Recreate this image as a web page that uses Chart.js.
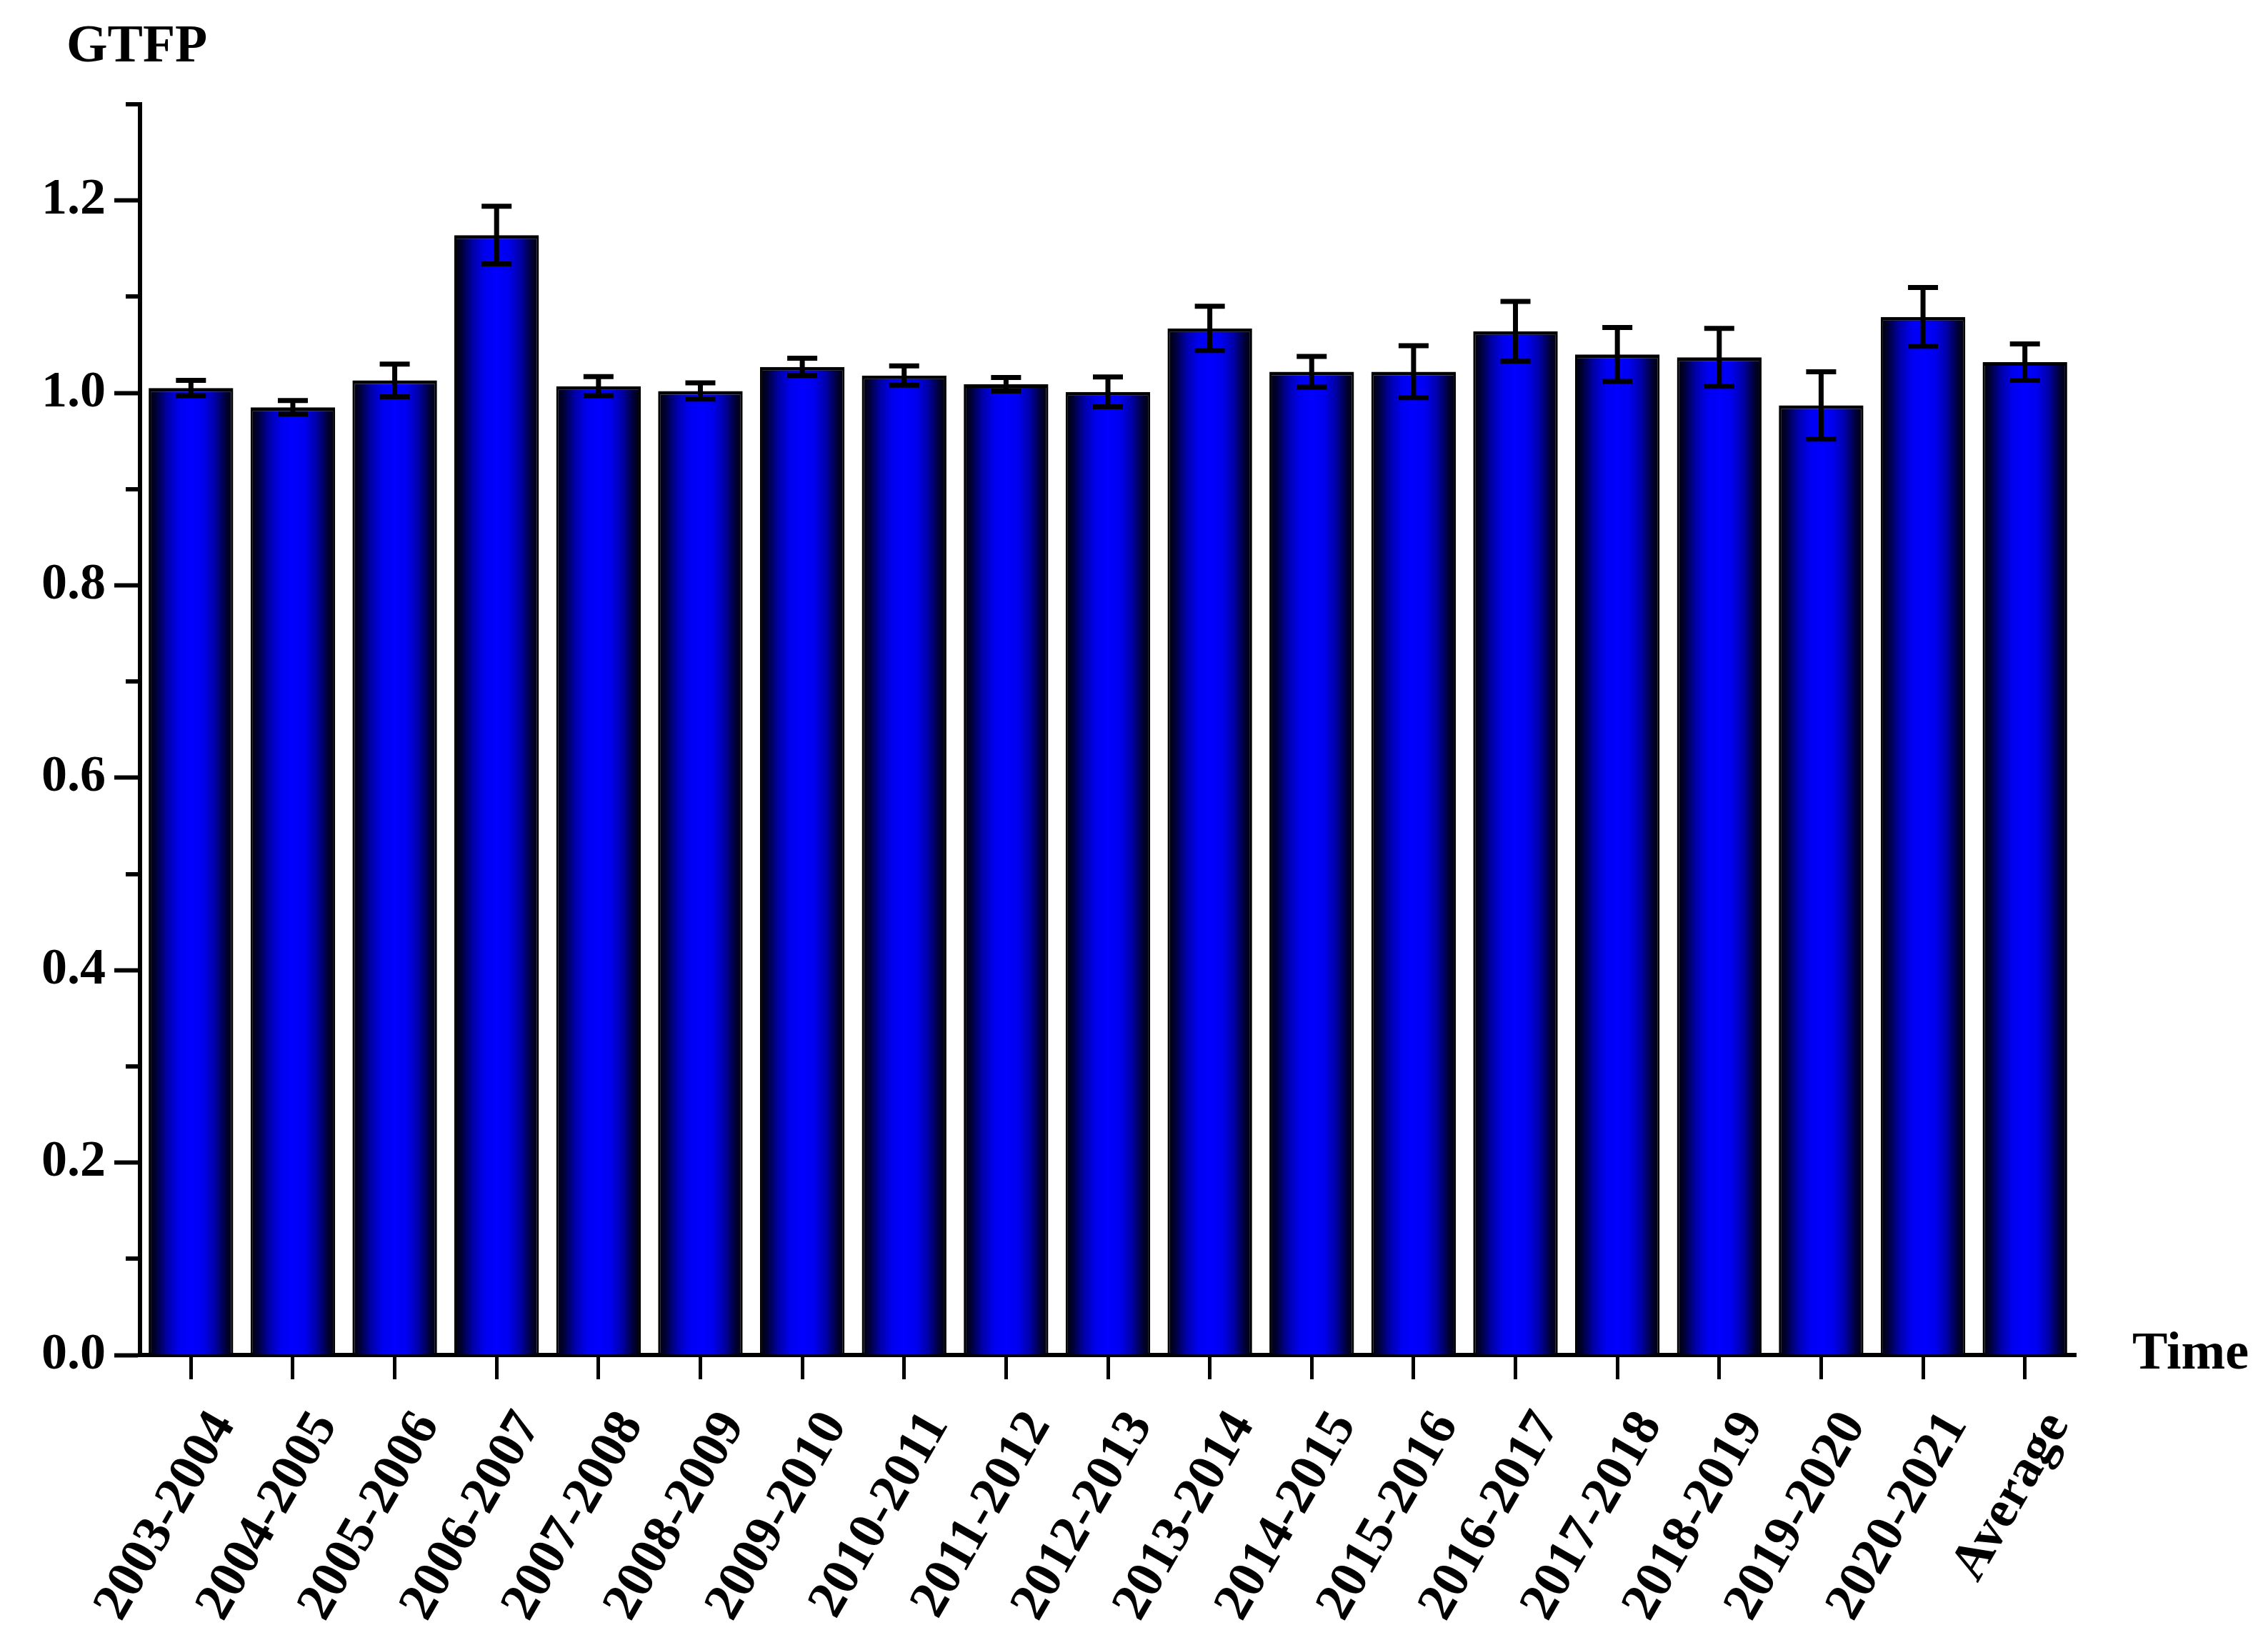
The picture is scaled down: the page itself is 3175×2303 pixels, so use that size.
<!DOCTYPE html>
<html>
<head>
<meta charset="utf-8">
<script src="https://cdn.jsdelivr.net/npm/chart.js@4.4.1/dist/chart.umd.min.js"></script>
<style>
html,body{margin:0;padding:0;background:#ffffff;}
#wrap{width:3175px;height:2303px;position:relative;}
</style>
</head>
<body>
<div id="wrap"><canvas id="c" width="3175" height="2303"></canvas></div>
<script>
// ---- data ----
const categories = ['2003-2004','2004-2005','2005-2006','2006-2007','2007-2008','2008-2009','2009-2010','2010-2011','2011-2012','2012-2013','2013-2014','2014-2015','2015-2016','2016-2017','2017-2018','2018-2019','2019-2020','2020-2021','Average'];
const gtfpValues = [1.005, 0.985, 1.013, 1.164, 1.007, 1.002, 1.027, 1.018, 1.009, 1.001, 1.067, 1.022, 1.022, 1.064, 1.040, 1.037, 0.987, 1.079, 1.032];
const gtfpErrors = [0.008, 0.007, 0.017, 0.030, 0.010, 0.0085, 0.009, 0.010, 0.007, 0.0155, 0.023, 0.016, 0.027, 0.031, 0.028, 0.030, 0.035, 0.0305, 0.019];
const yTickLabels = ['0.0','0.2','0.4','0.6','0.8','1.0','1.2'];
const yAxisTitle = 'GTFP';
const xAxisTitle = 'Time';

const FONT = '"Liberation Serif", "Times New Roman", serif';
const BAR_PCT = 0.83;

function barGradient(ctx) {
  const chart = ctx.chart;
  const area = chart.chartArea;
  if (!area || ctx.type !== 'data') return '#0000ff';
  const xs = chart.scales.x;
  const cx = xs.getPixelForValue(ctx.dataIndex);
  const w = xs.width / categories.length * BAR_PCT;
  const g = chart.ctx.createLinearGradient(cx - w / 2, 0, cx + w / 2, 0);
  g.addColorStop(0.00, '#000008');
  g.addColorStop(0.08, '#000030');
  g.addColorStop(0.22, '#0000a8');
  g.addColorStop(0.36, '#0000f0');
  g.addColorStop(0.50, '#0000ff');
  g.addColorStop(0.64, '#0000f0');
  g.addColorStop(0.78, '#0000a8');
  g.addColorStop(0.92, '#000030');
  g.addColorStop(1.00, '#000008');
  return g;
}

const errorBarPlugin = {
  id: 'errorBars',
  afterDatasetsDraw(chart) {
    const meta = chart.getDatasetMeta(0);
    const ys = chart.scales.y;
    const c = chart.ctx;
    c.save();
    c.strokeStyle = '#000';
    c.lineWidth = 7;
    c.lineCap = 'butt';
    meta.data.forEach((bar, i) => {
      const v = gtfpValues[i], e = gtfpErrors[i];
      const yt = ys.getPixelForValue(v + e);
      const yb = ys.getPixelForValue(v - e);
      const x = bar.x;
      c.beginPath();
      c.moveTo(x, yt); c.lineTo(x, yb);
      c.moveTo(x - 21, yt); c.lineTo(x + 21, yt);
      c.moveTo(x - 21, yb); c.lineTo(x + 21, yb);
      c.stroke();
    });
    c.restore();
  }
};

const decorPlugin = {
  id: 'decor',
  afterDraw(chart) {
    const c = chart.ctx;
    const ys = chart.scales.y;
    c.save();
    // minor ticks on y axis
    c.strokeStyle = '#000';
    c.lineWidth = 6;
    ys.ticks.forEach(t => {
      const k = Math.round(t.value * 10);
      if (k % 2 !== 0) {
        const y = Math.round(ys.getPixelForValue(t.value));
        c.beginPath();
        c.moveTo(ys.right, y);
        c.lineTo(ys.right - 20, y);
        c.stroke();
      }
    });
    // axis titles
    c.fillStyle = '#000';
    c.font = 'bold 74px ' + FONT;
    c.textBaseline = 'alphabetic';
    c.textAlign = 'left';
    c.fillText(yAxisTitle, 93, 86);
    c.fillText(xAxisTitle, 2985, 1916);
    c.restore();
  }
};

new Chart(document.getElementById('c'), {
  type: 'bar',
  data: {
    labels: categories,
    datasets: [{
      data: gtfpValues,
      backgroundColor: barGradient,
      borderColor: '#000',
      borderWidth: {top: 5, left: 3, right: 3, bottom: 0},
      borderSkipped: false,
      categoryPercentage: 1.0,
      barPercentage: BAR_PCT
    }]
  },
  options: {
    responsive: false,
    animation: false,
    devicePixelRatio: 1,
    layout: {padding: {left: 0, right: 269, top: 146, bottom: 0}},
    plugins: {legend: {display: false}, tooltip: {enabled: false}, title: {display: false}},
    scales: {
      x: {
        grid: {display: true, drawOnChartArea: false, drawTicks: true, tickLength: 34, tickWidth: 5, tickColor: '#000', offset: false},
        border: {display: true, color: '#000', width: 6},
        ticks: {
          autoSkip: false, maxRotation: 60, minRotation: 60, padding: 31, labelOffset: 46, color: '#000',
          font: {family: FONT, weight: 'bold', size: 74}
        },
        afterFit(s) { s.height = 406; }
      },
      y: {
        min: 0, max: 1.3,
        grid: {
          display: true, drawOnChartArea: false, drawTicks: true, tickLength: 36, tickWidth: 6,
          tickColor: (ctx) => (ctx.tick && Math.round(ctx.tick.value * 10) % 2 === 0) ? '#000' : 'rgba(0,0,0,0)'
        },
        border: {display: true, color: '#000', width: 6},
        ticks: {
          stepSize: 0.1, padding: 12, color: '#000',
          font: {family: FONT, weight: 'bold', size: 72},
          callback: (value) => {
            const k = Math.round(value * 10);
            return k % 2 === 0 ? (yTickLabels[k / 2] || '') : '';
          }
        },
        afterFit(s) { s.width = 196; }
      }
    }
  },
  plugins: [errorBarPlugin, decorPlugin]
});
</script>
</body>
</html>
